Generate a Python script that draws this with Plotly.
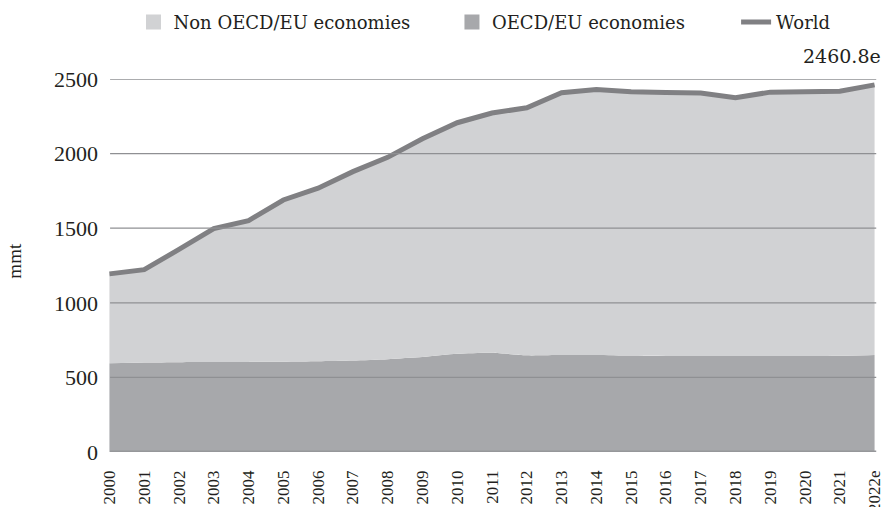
import plotly.graph_objects as go

years = list(range(2000, 2023))
year_labels = [str(y) for y in range(2000, 2022)] + ["2022e"]
world = [1194, 1222, 1358, 1497, 1551, 1689, 1768, 1879, 1975, 2100, 2207, 2272,
         2307, 2408, 2430, 2415, 2410, 2406, 2374, 2412, 2414, 2418, 2460.8]
oecd = [595, 600, 602, 603, 604, 605, 608, 613, 622, 636, 658, 665,
        648, 650, 650, 646, 644, 644, 643, 643, 643, 645, 650]
non_oecd = [599, 622, 756, 894, 947, 1084, 1160, 1266, 1353, 1464, 1549, 1607,
            1659, 1758, 1780, 1769, 1766, 1762, 1731, 1769, 1771, 1773, 1810.8]
y_ticks = [0, 500, 1000, 1500, 2000, 2500]
end_label = "2460.8e"

C_NON = "#d1d2d4"
C_OECD = "#a7a8ab"
C_WORLD = "#808083"
C_GRID = "#8f9093"
FONT = "Liberation Serif"
FONT2 = "DejaVu Serif"
TXT = "#231f20"

fig = go.Figure()
fig.add_trace(go.Scatter(x=years, y=oecd, stackgroup="s", mode="lines",
                         line=dict(width=0, shape="spline", smoothing=0.6),
                         fillcolor=C_OECD, showlegend=False, hoverinfo="skip"))
fig.add_trace(go.Scatter(x=years, y=non_oecd, stackgroup="s", mode="lines",
                         line=dict(width=0), fillcolor=C_NON,
                         showlegend=False, hoverinfo="skip"))
fig.add_trace(go.Scatter(x=years, y=world, mode="lines",
                         line=dict(width=5, color=C_WORLD), name="World",
                         legend="legend3"))
# legend swatches
fig.add_trace(go.Scatter(x=[None], y=[None], mode="markers", name="Non OECD/EU economies",
                         marker=dict(symbol="square", size=15, color=C_NON), legend="legend"))
fig.add_trace(go.Scatter(x=[None], y=[None], mode="markers", name="OECD/EU economies",
                         marker=dict(symbol="square", size=15, color=C_OECD), legend="legend2"))

shapes = []
for v in y_ticks:
    shapes.append(dict(type="line", xref="paper", yref="y", x0=0.004, x1=0.999,
                       y0=v, y1=v, layer="above",
                       line=dict(color=C_GRID if v else "#96979a", width=1.3 if v else 3)))

def leg(x):
    return dict(orientation="h", x=x, xanchor="left", y=1.152, yanchor="middle",
                font=dict(size=18, family=FONT2, color=TXT), itemwidth=30,
                bgcolor="rgba(0,0,0,0)")

fig.update_layout(
    width=884, height=507, autosize=False,
    margin=dict(l=107, r=7, t=79, b=55, autoexpand=False),
    plot_bgcolor="white", paper_bgcolor="white",
    font=dict(family=FONT, color=TXT),
    shapes=shapes,
    showlegend=True,
    legend=leg(0.0344),
    legend2=leg(0.448),
    legend3=leg(0.817),
    annotations=[
        dict(text=end_label, xref="paper", yref="paper", x=1.008, y=1.063,
             xanchor="right", yanchor="middle", showarrow=False,
             font=dict(size=19, family=FONT2, color=TXT)),
        dict(text="mmt", xref="paper", yref="paper", x=-0.1195, y=0.513,
             xanchor="center", yanchor="middle", showarrow=False, textangle=-90,
             font=dict(size=19, family=FONT, color=TXT)),
    ],
)
fig.update_xaxes(range=[1999.93, 2022.07], tickvals=years, ticktext=year_labels,
                 tickangle=-90, showgrid=False, zeroline=False, showline=False,
                 ticks="", ticklabelstandoff=14, ticklabeloverflow="allow",
                 tickfont=dict(size=17, family=FONT, color=TXT))
fig.update_yaxes(range=[0, 2500], tickvals=y_ticks, showgrid=False, zeroline=False,
                 showline=False, ticks="", ticklabelstandoff=8,
                 tickfont=dict(size=22, family=FONT, color=TXT))

fig.write_html("out.html", config={"displayModeBar": False},
               post_script="document.body.style.margin='0px';document.body.style.overflow='hidden';")
